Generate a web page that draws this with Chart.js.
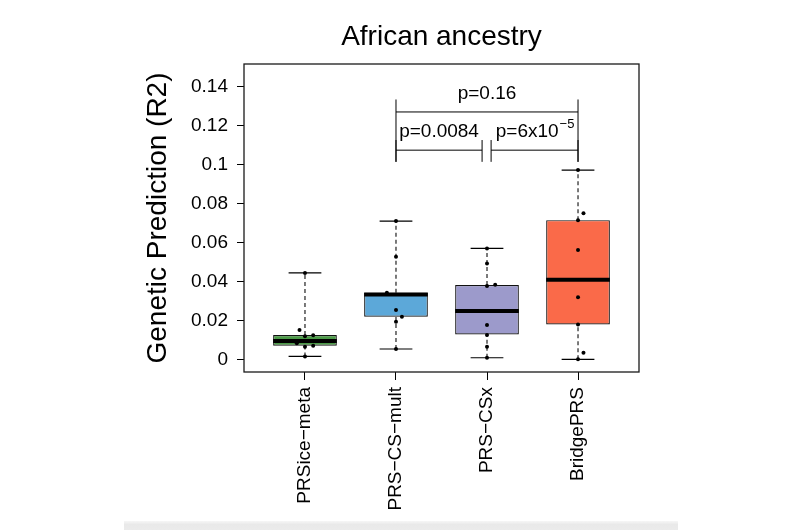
<!DOCTYPE html>
<html>
<head>
<meta charset="utf-8">
<script src="https://cdn.jsdelivr.net/npm/chart.js@4.4.1/dist/chart.umd.min.js"></script>
<style>
    body { margin: 0; background: #fff; }
    #contenedor { position: relative; width: 800px; height: 530px; }
    #franja {
        position: absolute; left: 124px; top: 521px; width: 554px; height: 9px;
        background: linear-gradient(#f6f6f6, #e9e9e9 40%, #ebebeb);
    }
</style>
</head>
<body>
<div id="contenedor">
    <canvas id="grafico" width="800" height="530"></canvas>
    <div id="franja"></div>
</div>
<script>
// Datos
const categorias = ['PRSice\u2212meta', 'PRS\u2212CS\u2212mult', 'PRS\u2212CSx', 'BridgePRS'];
const colores = ['#4b9a47', '#5ca8d9', '#9c9acb', '#fa6a49'];

const minimos = [0.0015, 0.0053, 0.0008, 0.0];
const q1 = [0.0070, 0.0219, 0.0128, 0.0179];
const medianas = [0.0094, 0.0333, 0.0248, 0.0408];
const q3 = [0.0125, 0.0342, 0.0381, 0.0714];
const maximos = [0.0443, 0.0709, 0.0569, 0.0971];

// Puntos individuales (y su desplazamiento horizontal)
const puntosPRSice = [0.0443, 0.0150, 0.0123, 0.0119, 0.0082, 0.0070, 0.0065, 0.0015];
const jitterPRSice = [0, -0.06, 0.09, 0, -0.09, 0.09, 0, 0];
const puntosCSmult = [0.0709, 0.0526, 0.0342, 0.0253, 0.0219, 0.0193, 0.0053];
const jitterCSmult = [0, 0, -0.1, 0, 0.065, 0, 0];
const puntosCSx = [0.0569, 0.0492, 0.0383, 0.0376, 0.0176, 0.0125, 0.0065, 0.0008];
const jitterCSx = [0, 0, 0.09, 0, 0, 0, 0, 0];
const puntosBridge = [0.0971, 0.0749, 0.0714, 0.0561, 0.0318, 0.0179, 0.0034, 0.0];
const jitterBridge = [0, 0.06, 0, 0, 0, 0, 0.06, 0];

const yTicks = [0, 0.02, 0.04, 0.06, 0.08, 0.1, 0.12, 0.14];
const yTickLabels = ['0', '0.02', '0.04', '0.06', '0.08', '0.1', '0.12', '0.14'];

// Comparaciones: desde, hasta, altura de la barra y texto
const comparaciones = [
    { x1: 2, x2: 4, y: 0.1269, base: 'p=0.16', exp: '' },
    { x1: 2, x2: 2.946, y: 0.1073, base: 'p=0.0084', exp: '' },
    { x1: 3.045, x2: 4, y: 0.1073, base: 'p=6x10', exp: '\u22125' }
];

const titulo = 'African ancestry';
const tituloY = 'Genetic Prediction (R2)';

const fuente = '"Liberation Sans", Arial, Helvetica, sans-serif';
Chart.defaults.font.family = fuente;
Chart.defaults.color = '#000';

// Arma los segmentos de bigotes, topes y medianas
function segmentos(pares) {
    const out = [];
    pares.forEach(p => {
        out.push(p[0], p[1], { x: p[1].x, y: null });
    });
    return out;
}

const bigotes = segmentos(categorias.flatMap((c, i) => [
    [{ x: i + 1, y: q3[i] }, { x: i + 1, y: maximos[i] }],
    [{ x: i + 1, y: minimos[i] }, { x: i + 1, y: q1[i] }]
]));
const topes = segmentos(categorias.flatMap((c, i) => [
    [{ x: i + 1 - 0.18, y: maximos[i] }, { x: i + 1 + 0.18, y: maximos[i] }],
    [{ x: i + 1 - 0.18, y: minimos[i] }, { x: i + 1 + 0.18, y: minimos[i] }]
]));
const lineasMediana = segmentos(categorias.map((c, i) =>
    [{ x: i + 1 - 0.35, y: medianas[i] }, { x: i + 1 + 0.35, y: medianas[i] }]
));

const grupos = [
    [puntosPRSice, jitterPRSice],
    [puntosCSmult, jitterCSmult],
    [puntosCSx, jitterCSx],
    [puntosBridge, jitterBridge]
];
const puntos = grupos.flatMap((g, i) => g[0].map((v, j) => ({ x: i + 1 + g[1][j], y: v })));

// Dibuja marco, título, etiqueta del eje y y comparaciones
const decoraciones = {
    id: 'decoraciones',
    afterDraw(chart) {
        const ctx = chart.ctx;
        const area = chart.chartArea;
        const sx = chart.scales.x;
        const sy = chart.scales.y;
        ctx.save();

        ctx.strokeStyle = '#1a1a1a';
        ctx.lineWidth = 1.3;
        ctx.strokeRect(area.left, area.top, area.right - area.left, area.bottom - area.top);

        ctx.fillStyle = '#000';
        ctx.textAlign = 'center';
        ctx.textBaseline = 'alphabetic';
        ctx.font = '28px ' + fuente;
        ctx.fillText(titulo, (area.left + area.right) / 2, area.top - 19);

        ctx.save();
        ctx.translate(area.left - 86, (area.top + area.bottom) / 2);
        ctx.rotate(-Math.PI / 2);
        ctx.textBaseline = 'middle';
        ctx.fillText(tituloY, 0, 0);
        ctx.restore();

        // Barras de comparación
        ctx.strokeStyle = '#000';
        ctx.lineWidth = 1;
        const linea = (x1, y1, x2, y2) => {
            ctx.beginPath();
            ctx.moveTo(x1, y1);
            ctx.lineTo(x2, y2);
            ctx.stroke();
        };
        const top = comparaciones[0];
        linea(sx.getPixelForValue(top.x1), sy.getPixelForValue(top.y), sx.getPixelForValue(top.x2), sy.getPixelForValue(top.y));
        [top.x1, top.x2].forEach(x => {
            linea(sx.getPixelForValue(x), sy.getPixelForValue(0.1333), sx.getPixelForValue(x), sy.getPixelForValue(0.1013));
        });
        comparaciones.slice(1).forEach(c => {
            linea(sx.getPixelForValue(c.x1), sy.getPixelForValue(c.y), sx.getPixelForValue(c.x2), sy.getPixelForValue(c.y));
            [c.x1, c.x2].forEach(x => {
                linea(sx.getPixelForValue(x), sy.getPixelForValue(0.1125), sx.getPixelForValue(x), sy.getPixelForValue(0.1013));
            });
        });

        // Textos de p
        ctx.textBaseline = 'alphabetic';
        comparaciones.forEach((c, i) => {
            const cx = sx.getPixelForValue((c.x1 + c.x2) / 2);
            const by = sy.getPixelForValue(c.y) - (i === 0 ? 13 : 13);
            ctx.font = '19px ' + fuente;
            if (!c.exp) {
                ctx.textAlign = 'center';
                ctx.fillText(c.base, cx, by);
            } else {
                const wb = ctx.measureText(c.base).width;
                ctx.font = '13px ' + fuente;
                const we = ctx.measureText(c.exp).width;
                const x0 = cx - (wb + we) / 2;
                ctx.textAlign = 'left';
                ctx.font = '19px ' + fuente;
                ctx.fillText(c.base, x0, by);
                ctx.font = '13px ' + fuente;
                ctx.fillText(c.exp, x0 + wb + 1, by - 9);
            }
        });
        ctx.restore();
    }
};

const ctx = document.getElementById('grafico').getContext('2d');

new Chart(ctx, {
    type: 'bar',
    data: {
        datasets: [
            {
                type: 'scatter',
                data: puntos,
                pointRadius: 2,
                pointBackgroundColor: '#000',
                pointBorderWidth: 0,
                order: 0
            },
            {
                type: 'line',
                data: lineasMediana,
                borderColor: '#000',
                borderWidth: 4,
                borderCapStyle: 'butt',
                pointRadius: 0,
                spanGaps: false,
                order: 1
            },
            {
                type: 'line',
                data: topes,
                borderColor: '#000',
                borderWidth: 1.2,
                pointRadius: 0,
                spanGaps: false,
                order: 2
            },
            {
                type: 'line',
                data: bigotes,
                borderColor: '#222',
                borderWidth: 1.2,
                borderDash: [4, 3],
                pointRadius: 0,
                spanGaps: false,
                order: 3
            },
            {
                type: 'bar',
                data: categorias.map((c, i) => ({ x: i + 1, y: [q1[i], q3[i]] })),
                backgroundColor: colores,
                borderColor: '#111',
                borderWidth: 1.2,
                borderSkipped: false,
                barPercentage: 0.7,
                categoryPercentage: 1,
                grouped: false,
                order: 4
            }
        ]
    },
    options: {
        responsive: false,
        animation: false,
        layout: { padding: { left: 0, top: 64, right: 161, bottom: 0 } },
        plugins: {
            legend: { display: false },
            tooltip: { enabled: false }
        },
        scales: {
            x: {
                type: 'linear',
                min: 0.33,
                max: 4.67,
                offset: false,
                afterBuildTicks: (s) => { s.ticks = categorias.map((c, i) => ({ value: i + 1 })); },
                afterFit: (s) => { s.height = 158; },
                grid: { display: true, offset: false, drawOnChartArea: false, drawTicks: true, tickLength: 8, color: '#000' },
                border: { display: false },
                ticks: {
                    autoSkip: false,
                    minRotation: 90,
                    maxRotation: 90,
                    padding: 7,
                    font: { size: 19 },
                    callback: (v) => categorias[v - 1]
                }
            },
            y: {
                min: -0.0065,
                max: 0.1515,
                afterBuildTicks: (s) => { s.ticks = yTicks.map(v => ({ value: v })); },
                afterFit: (s) => { s.width = 244; },
                grid: { display: true, drawOnChartArea: false, drawTicks: true, tickLength: 7, color: '#000' },
                border: { display: false },
                ticks: {
                    padding: 9,
                    font: { size: 19 },
                    callback: (v, i) => yTickLabels[i]
                }
            }
        }
    },
    plugins: [decoraciones]
});
</script>
</body>
</html>
